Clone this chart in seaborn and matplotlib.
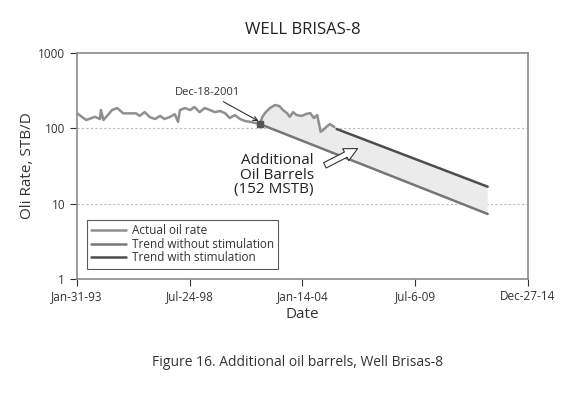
import pandas as pd
import numpy as np
import seaborn as sns
import matplotlib.pyplot as plt
import matplotlib.dates as mdates

# Data

actual_dates = [
    "1993-01-31", "1993-07-15", "1993-12-15", "1994-03-15", "1994-04-01",
    "1994-05-15", "1994-08-01", "1994-10-15", "1995-01-15", "1995-05-01",
    "1995-12-15", "1996-02-15", "1996-05-15", "1996-08-15", "1996-11-15",
    "1997-02-15", "1997-05-01", "1997-08-01", "1997-11-01", "1997-12-28",
    "1998-02-01", "1998-05-01", "1998-08-01", "1998-10-15", "1999-01-15",
    "1999-04-15", "1999-07-15", "1999-10-15", "2000-01-15", "2000-04-15",
    "2000-07-01", "2000-10-01", "2001-01-01", "2001-04-01", "2001-06-25",
    "2001-12-18", "2002-02-01", "2002-04-01", "2002-06-15", "2002-09-15",
    "2002-12-01", "2003-02-01", "2003-04-15", "2003-06-01", "2003-08-01",
    "2003-10-01", "2004-01-01", "2004-03-15", "2004-06-01", "2004-08-01",
    "2004-10-01", "2004-12-01", "2005-01-15", "2005-03-15", "2005-05-15",
    "2005-08-01",
]
actual_rate = [
    158, 129, 142, 133, 175,
    129, 150, 175, 186, 158,
    158, 146, 164, 141, 133,
    146, 133, 141, 154, 122,
    175, 186, 175, 192, 164,
    186, 175, 164, 170, 158,
    137, 150, 133, 125, 122,
    114, 142, 164, 186, 204,
    197, 175, 159, 142, 164,
    150, 146, 155, 159, 137,
    150, 90, 95, 105, 114,
    104,
]

stim_start = "2001-12-18"
stim_start_rate = 114

no_stim_dates = ["2001-12-18", "2013-01-10"]
no_stim_rate = [114, 7.3]

with_stim_dates = ["2005-09-10", "2013-01-10"]
with_stim_rate = [98, 16.8]

tick_dates = ["1993-01-31", "1998-07-24", "2004-01-14", "2009-07-06", "2014-12-27"]
tick_labels = ["Jan-31-93", "Jul-24-98", "Jan-14-04", "Jul-6-09", "Dec-27-14"]

actual = pd.DataFrame({"date": pd.to_datetime(actual_dates), "rate": actual_rate})
no_stim = pd.DataFrame({"date": pd.to_datetime(no_stim_dates), "rate": no_stim_rate})
with_stim = pd.DataFrame({"date": pd.to_datetime(with_stim_dates), "rate": with_stim_rate})

sns.set_theme(style="white")
plt.rcParams['font.family'] = ['Open Sans', 'DejaVu Sans']

fig = plt.figure(figsize=(5.78, 3.94), dpi=100)
ax = fig.add_axes([0.1332, 0.2919, 0.7803, 0.5736])

c_actual = "#8f8f8f"
c_nostim = "#767676"
c_stim = "#4d4d4d"

# shaded area: actual after stimulation + trend with stimulation above, trend without below
after = actual[actual["date"] >= pd.Timestamp(stim_start)]
upper_x = list(after["date"]) + list(with_stim["date"])
upper_y = list(after["rate"]) + list(with_stim["rate"])
poly_x = mdates.date2num(upper_x + list(no_stim["date"])[::-1])
poly_y = upper_y + list(no_stim["rate"])[::-1]
ax.fill(poly_x, poly_y, color="#ebebeb", lw=0, zorder=1)

sns.lineplot(data=actual, x="date", y="rate", ax=ax, color=c_actual, lw=1.8,
             label="Actual oil rate", zorder=3)
sns.lineplot(data=no_stim, x="date", y="rate", ax=ax, color=c_nostim, lw=1.8,
             label="Trend without stimulation", zorder=3)
sns.lineplot(data=with_stim, x="date", y="rate", ax=ax, color=c_stim, lw=1.8,
             label="Trend with stimulation", zorder=3)

ax.plot(pd.Timestamp(stim_start), stim_start_rate, marker="s", ms=4,
        color="#555555", zorder=4)

ax.set_yscale("log")
ax.set_ylim(1, 1000)
ax.set_xlim(pd.Timestamp(tick_dates[0]), pd.Timestamp(tick_dates[-1]))
ax.set_yticks([1, 10, 100, 1000])
ax.set_yticklabels(["1", "10", "100", "1000"])
ax.minorticks_off()
ax.yaxis.set_minor_locator(plt.NullLocator())
ax.set_xticks(pd.to_datetime(tick_dates))
ax.set_xticklabels(tick_labels)
ax.tick_params(axis="both", labelsize=8.5, colors="#333333", length=5, width=0.8,
               direction="out", left=True, bottom=True)
ax.tick_params(axis="x", pad=3)

for y in [10, 100]:
    ax.axhline(y, color="#bbbbbb", lw=0.8, ls=(0, (2, 2)), zorder=0)

for s in ax.spines.values():
    s.set_color("#8a8a8a")
    s.set_linewidth(1.2)

ax.set_xlabel("Date", fontsize=11, color="#333333", labelpad=3)
ax.set_ylabel("Oli Rate, STB/D", fontsize=11, color="#333333", labelpad=2)
ax.set_title("WELL BRISAS-8", fontsize=12, color="#222222", pad=14)

leg = ax.legend(loc="lower left", fontsize=8.5, frameon=True, fancybox=False,
                edgecolor="#333333", handlelength=3, borderpad=0.35,
                labelspacing=0.05, handletextpad=0.5,
                bbox_to_anchor=(0.008, 0.02))
leg.get_frame().set_linewidth(0.8)
for t in leg.get_texts():
    t.set_color("#333333")

ax.annotate("Dec-18-2001", xy=(pd.Timestamp(stim_start), 122),
            xytext=(pd.Timestamp("1999-06-01"), 250), fontsize=8,
            color="#333333", ha="center", va="bottom",
            arrowprops=dict(arrowstyle="->", color="#333333", lw=0.8,
                            shrinkA=0, shrinkB=1), zorder=5)

ax.annotate("", xy=(pd.Timestamp("2006-11-01"), 56),
            xytext=(pd.Timestamp("2005-01-01"), 31),
            arrowprops=dict(arrowstyle="simple,head_width=0.8,head_length=0.8,tail_width=0.35",
                            fc="white", ec="#333333", lw=0.8), zorder=5)

ax.text(pd.Timestamp("2004-08-01"), 24, "Additional\nOil Barrels\n(152 MSTB)",
        fontsize=11, color="#222222", ha="right", va="center",
        linespacing=0.95, zorder=5)

fig.text(0.515, 0.08, "Figure 16. Additional oil barrels, Well Brisas-8",
         ha="center", va="center", fontsize=10, color="#333333")

fig.savefig("out.png", dpi=100)
